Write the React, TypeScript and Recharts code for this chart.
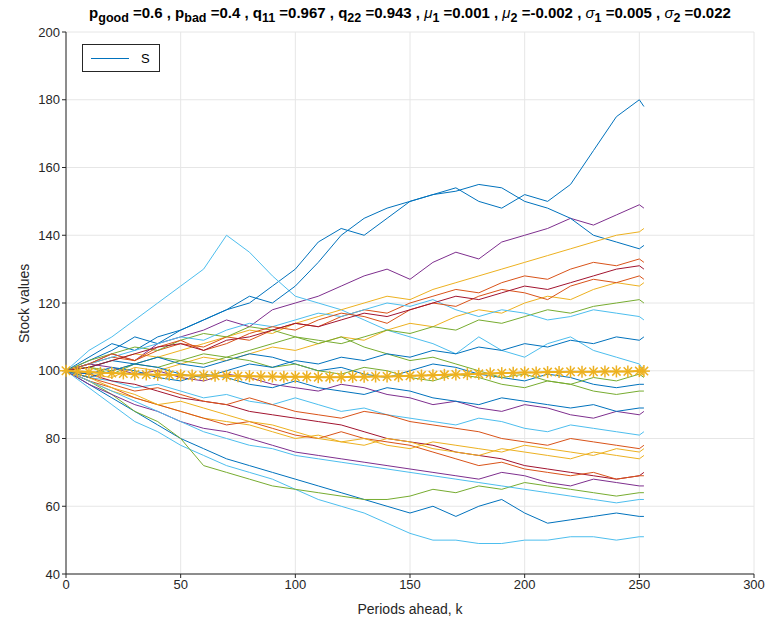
import React from "react"
import { LineChart, Line, XAxis, YAxis, CartesianGrid } from "recharts"

const periods = [0, 10, 20, 30, 40, 50, 60, 70, 80, 90, 100, 110, 120, 130, 140, 150, 160, 170, 180, 190, 200, 210, 220, 230, 240, 250, 252]

const paths: number[][] = [
  [100, 104, 108, 106, 110, 112, 115, 118, 120, 125, 130, 138, 142, 140, 145, 150, 152, 154, 150, 148, 152, 150, 155, 165, 175, 180, 178],
  [100, 102, 105, 103, 108, 110, 112, 115, 113, 118, 120, 122, 125, 128, 130, 127, 132, 135, 133, 138, 140, 142, 145, 143, 146, 149, 148],
  [100, 106, 110, 115, 120, 125, 130, 140, 135, 128, 122, 120, 118, 115, 112, 110, 108, 105, 110, 106, 104, 108, 110, 106, 104, 102, 100],
  [100, 103, 106, 110, 108, 112, 115, 118, 122, 120, 125, 132, 140, 145, 148, 150, 152, 153, 155, 154, 150, 148, 145, 140, 138, 136, 137],
  [100, 95, 90, 85, 82, 78, 75, 72, 70, 68, 65, 62, 60, 58, 55, 52, 50, 50, 49, 49, 50, 50, 51, 51, 50, 51, 51],
  [100, 96, 92, 88, 84, 80, 77, 74, 72, 70, 68, 66, 64, 62, 60, 58, 60, 57, 60, 62, 58, 55, 56, 57, 58, 57, 57],
  [100, 97, 93, 88, 85, 80, 72, 70, 68, 66, 65, 64, 63, 62, 62, 63, 65, 64, 66, 65, 67, 66, 65, 64, 63, 64, 64],
  [100, 101, 103, 105, 104, 106, 108, 110, 112, 111, 114, 116, 118, 120, 122, 121, 124, 126, 128, 130, 132, 134, 136, 138, 140, 141, 142],
  [100, 102, 104, 103, 106, 108, 107, 110, 109, 112, 114, 113, 116, 118, 117, 120, 122, 124, 123, 126, 128, 127, 130, 132, 131, 133, 132],
  [100, 99, 98, 101, 100, 102, 104, 103, 105, 107, 106, 108, 110, 109, 112, 114, 113, 116, 118, 117, 120, 122, 121, 124, 126, 125, 126],
  [100, 101, 100, 102, 104, 103, 105, 104, 106, 108, 110, 109, 108, 110, 112, 111, 113, 112, 115, 114, 116, 118, 117, 119, 120, 121, 120],
  [100, 98, 97, 95, 96, 94, 92, 93, 91, 90, 92, 90, 88, 89, 87, 86, 85, 84, 86, 85, 83, 82, 84, 83, 82, 81, 82],
  [100, 99, 97, 96, 94, 92, 91, 90, 88, 87, 86, 85, 84, 82, 80, 79, 78, 76, 75, 74, 72, 71, 70, 69, 68, 69, 70],
  [100, 101, 103, 102, 104, 102, 101, 103, 105, 104, 102, 100, 101, 99, 98, 100, 102, 101, 99, 98, 97, 99, 98, 96, 95, 96, 96],
  [100, 98, 96, 94, 95, 93, 91, 90, 92, 90, 88, 87, 86, 88, 87, 85, 84, 83, 82, 80, 79, 78, 80, 79, 78, 77, 78],
  [100, 97, 94, 92, 90, 88, 86, 85, 84, 82, 80, 81, 79, 78, 80, 79, 77, 76, 75, 77, 76, 75, 74, 76, 75, 74, 75],
  [100, 102, 101, 99, 100, 98, 97, 99, 98, 96, 95, 94, 96, 95, 93, 92, 90, 91, 89, 88, 90, 89, 87, 86, 88, 87, 88],
  [100, 103, 105, 107, 106, 109, 111, 110, 113, 112, 110, 108, 110, 107, 105, 103, 104, 102, 100, 98, 99, 97, 96, 98, 97, 99, 98],
  [100, 102, 104, 106, 108, 110, 109, 112, 114, 113, 115, 117, 116, 118, 120, 119, 121, 118, 116, 118, 117, 115, 116, 118, 117, 116, 115],
  [100, 97, 95, 92, 90, 88, 86, 84, 85, 83, 81, 80, 82, 80, 79, 78, 76, 74, 72, 73, 71, 70, 69, 70, 68, 69, 69],
  [100, 99, 101, 100, 98, 97, 99, 98, 96, 95, 97, 95, 94, 93, 95, 94, 92, 91, 90, 92, 91, 90, 89, 90, 88, 89, 89],
  [100, 102, 105, 103, 107, 109, 106, 108, 111, 113, 112, 115, 117, 116, 114, 118, 120, 119, 122, 124, 123, 121, 125, 127, 126, 128, 127],
  [100, 98, 95, 93, 90, 91, 89, 87, 85, 84, 82, 80, 79, 80, 78, 77, 79, 78, 77, 76, 78, 77, 76, 75, 77, 76, 77],
  [100, 96, 93, 90, 88, 85, 83, 82, 80, 78, 76, 75, 74, 73, 72, 71, 70, 69, 68, 70, 69, 67, 66, 68, 67, 66, 66],
  [100, 101, 99, 102, 101, 103, 102, 104, 103, 101, 102, 100, 99, 101, 100, 98, 97, 99, 98, 96, 95, 97, 96, 94, 93, 94, 94],
  [100, 97, 94, 91, 88, 85, 82, 80, 78, 77, 75, 74, 73, 72, 71, 70, 69, 68, 67, 66, 65, 64, 63, 62, 61, 62, 62],
  [100, 101, 103, 105, 107, 108, 106, 109, 110, 112, 114, 113, 115, 117, 116, 118, 120, 122, 121, 123, 125, 124, 126, 128, 130, 131, 130],
  [100, 98, 100, 102, 101, 99, 98, 100, 102, 101, 103, 102, 104, 103, 105, 104, 106, 105, 107, 106, 108, 107, 109, 108, 110, 109, 110],
]

const meanPeriods = [0, 5, 10, 15, 20, 25, 30, 35, 40, 45, 50, 55, 60, 65, 70, 75, 80, 85, 90, 95, 100, 105, 110, 115, 120, 125, 130, 135, 140, 145, 150, 155, 160, 165, 170, 175, 180, 185, 190, 195, 200, 205, 210, 215, 220, 225, 230, 235, 240, 245, 250, 252]
const meanValues = [100, 99.8, 99.6, 99.4, 99.3, 99.2, 99.0, 98.9, 98.8, 98.8, 98.7, 98.6, 98.6, 98.5, 98.5, 98.4, 98.4, 98.3, 98.3, 98.2, 98.2, 98.2, 98.1, 98.1, 98.1, 98.2, 98.2, 98.3, 98.3, 98.4, 98.5, 98.6, 98.7, 98.8, 98.9, 99.0, 99.1, 99.2, 99.3, 99.4, 99.5, 99.5, 99.6, 99.6, 99.7, 99.7, 99.7, 99.8, 99.8, 99.8, 99.9, 99.9]

const colors = ["#0072BD", "#D95319", "#EDB120", "#7E2F8E", "#77AC30", "#4DBEEE", "#A2142F"]
const pathColors = [0, 3, 5, 0, 5, 0, 4, 2, 1, 2, 4, 5, 6, 0, 1, 2, 3, 4, 5, 1, 0, 1, 2, 3, 4, 5, 6, 0]

const xTicks = [0, 50, 100, 150, 200, 250, 300]
const yTicks = [40, 60, 80, 100, 120, 140, 160, 180, 200]

const data = periods.map((k, i) => {
  const row: Record<string, number> = { k }
  paths.forEach((p, j) => (row["s" + j] = p[i]))
  return row
})
const meanData = meanPeriods.map((k, i) => ({ k, m: meanValues[i] }))

const Star = (props: any) => {
  const { cx, cy } = props
  if (cx == null || cy == null) return null
  const r = 6
  const d = r * 0.7
  return (
    <g stroke="#EDB120" strokeWidth={1.5}>
      <line x1={cx - r} y1={cy} x2={cx + r} y2={cy} />
      <line x1={cx} y1={cy - r} x2={cx} y2={cy + r} />
      <line x1={cx - d} y1={cy - d} x2={cx + d} y2={cy + d} />
      <line x1={cx - d} y1={cy + d} x2={cx + d} y2={cy - d} />
    </g>
  )
}

const font = "'Liberation Sans', Arial, sans-serif"

export default function App() {
  return (
    <div style={{ position: "relative", width: 770, height: 614, fontFamily: font }}>
      <div style={{ position: "absolute", left: 58, width: 688, top: -4, textAlign: "center", fontWeight: "bold", fontSize: 15, color: "#000" }}>
        p<sub>good</sub> =0.6 , p<sub>bad</sub> =0.4 , q<sub>11</sub> =0.967 , q<sub>22</sub> =0.943 , <i style={{ fontWeight: "normal" }}>μ</i><sub>1</sub> =0.001 , <i style={{ fontWeight: "normal" }}>μ</i><sub>2</sub> =-0.002 , <i style={{ fontWeight: "normal" }}>σ</i><sub>1</sub> =0.005 , <i style={{ fontWeight: "normal" }}>σ</i><sub>2</sub> =0.022
      </div>
      <LineChart width={770} height={614} data={data} margin={{ top: 24, right: 24, left: 18, bottom: 18 }}>
        <CartesianGrid stroke="#e6e6e6" />
        <XAxis dataKey="k" type="number" domain={[0, 300]} ticks={xTicks} stroke="#262626" tickSize={4} height={30}
          tick={{ fill: "#262626", fontSize: 13 }} allowDuplicatedCategory={false}
          label={{ value: "Periods ahead, k", position: "insideBottom", offset: -10, fill: "#262626", fontSize: 14 }} />
        <XAxis xAxisId="top" orientation="top" type="number" domain={[0, 300]} ticks={xTicks} stroke="#262626" tick={false} height={0} />
        <YAxis type="number" domain={[40, 200]} ticks={yTicks} stroke="#262626" tickSize={4} width={40}
          tick={{ fill: "#262626", fontSize: 13 }}
          label={{ value: "Stock values", angle: -90, position: "insideLeft", offset: -2, dy: 40, fill: "#262626", fontSize: 14 }} />
        <YAxis yAxisId="right" orientation="right" domain={[40, 200]} ticks={yTicks} stroke="#262626" tick={false} width={0} />
        {paths.map((_, j) => (
          <Line key={j} dataKey={"s" + j} stroke={colors[pathColors[j]]} strokeWidth={1} dot={false} isAnimationActive={false} />
        ))}
        <Line data={meanData} dataKey="m" stroke="#EDB120" strokeWidth={2} dot={<Star />} isAnimationActive={false} />
      </LineChart>
      <div style={{ position: "absolute", left: 74, top: 36, width: 76, height: 26, border: "1px solid #262626", background: "#fff", display: "flex", alignItems: "center", fontSize: 13 }}>
        <span style={{ display: "inline-block", width: 38, height: 1, background: "#0072BD", margin: "0 12px 0 8px" }} />S
      </div>
    </div>
  )
}
